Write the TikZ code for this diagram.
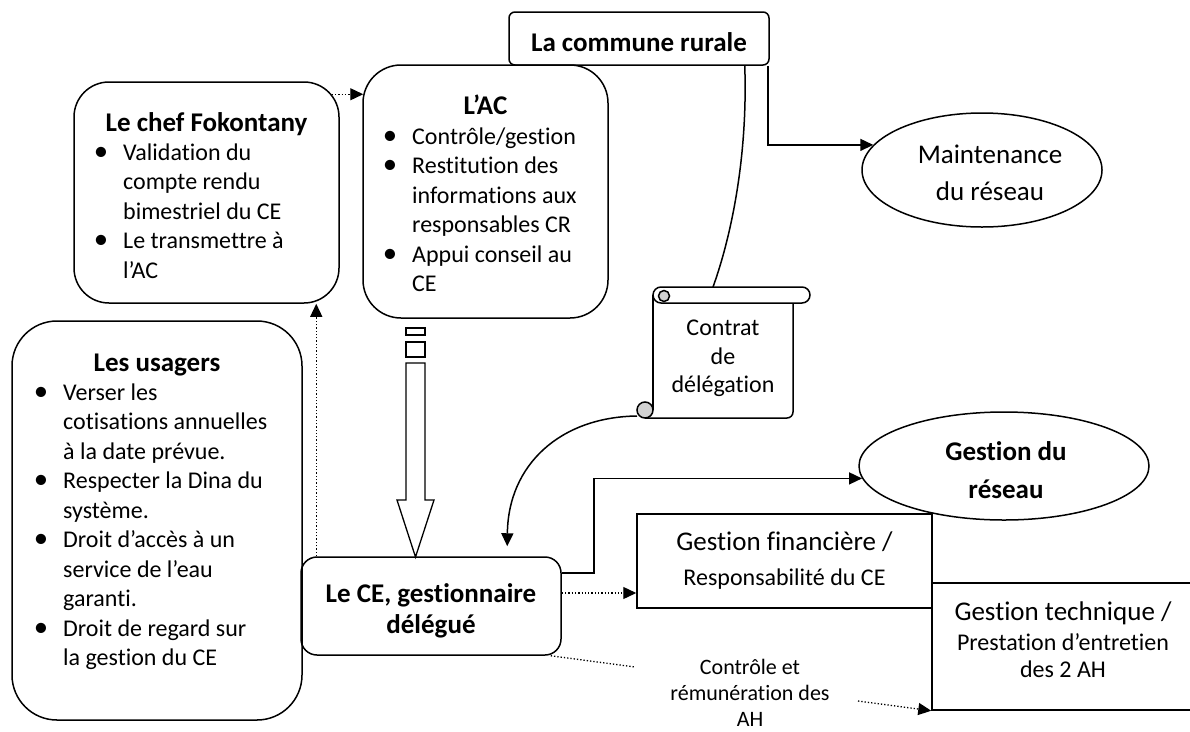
\documentclass[tikz,border=0pt]{standalone}
\usepackage{fontspec}
\setmainfont{Carlito}[Ligatures={NoCommon}]
\usetikzlibrary{arrows.meta,shapes.geometric}
\newcommand{\bodyf}{\fontsize{24pt}{29.5pt}\selectfont}
\newcommand{\headf}{\fontsize{27pt}{31pt}\selectfont}
\newcommand{\labf}{\fontsize{22pt}{26.5pt}\selectfont}
\newcommand{\bl}{\leavevmode\llap{\scalebox{1.2}{\textbullet}\hspace{15pt}}}
\tikzset{
  rbox/.style={draw, line width=1.5pt, inner sep=0pt},
  ell/.style={draw, ellipse, line width=1.5pt, inner sep=0pt},
  txt/.style={inner sep=0pt, align=center},
  bt/.style={inner sep=0pt, anchor=base},
  lst/.style={inner sep=0pt, anchor=base west},
  conn/.style={line width=1.5pt},
  arr/.style={line width=1.5pt, -{Triangle[length=13pt,width=12pt]}},
  dotl/.style={line width=1.3pt, dotted},
  darr/.style={line width=1.3pt, dotted, -{Triangle[length=13pt,width=12pt]}},
}
\begin{document}
\begin{tikzpicture}[x=1pt,y=-1pt]
\useasboundingbox (0,0) rectangle (1190,731);

% --- boxes ---
\node[rbox, rounded corners=6pt, minimum width=260pt, minimum height=53pt] (cr) at (639,38.5) {};
\node[txt, font=\headf\bfseries] (crt) at (639,42) {La commune rurale};

\node[rbox, rounded corners=38pt, minimum width=245pt, minimum height=253pt] (ac) at (485.5,191.5) {};
\node[bt, font=\headf\bfseries] (act) at (485.5,114) {L’AC};
\node[lst] (acl) at (412,144) {\parbox[t]{200pt}{\bodyf
 \bl Contrôle/gestion\\
 \bl Restitution des\\ informations aux\\ responsables CR\\
 \bl Appui conseil au\\ CE}};

\node[rbox, rounded corners=35pt, minimum width=265pt, minimum height=221pt] (chef) at (206.5,192.5) {};
\node[bt, font=\headf\bfseries] (cheft) at (206.5,131) {Le chef Fokontany};
\node[lst] (chefl) at (123,160) {\parbox[t]{210pt}{\bodyf
 \bl Validation du\\ compte rendu\\ bimestriel du CE\\
 \bl Le transmettre à\\ l’AC}};

\node[rbox, rounded corners=45pt, minimum width=290pt, minimum height=399pt] (us) at (157,520.5) {};
\node[bt, font=\headf\bfseries] (ust) at (157,371) {Les usagers};
\node[lst] (usl) at (63,400) {\parbox[t]{230pt}{\bodyf
 \bl Verser les\\ cotisations annuelles\\ à la date prévue.\\
 \bl Respecter la Dina du\\ système.\\
 \bl Droit d’accès à un\\ service de l’eau\\ garanti.\\
 \bl Droit de regard sur\\ la gestion du CE}};

\node[rbox, rounded corners=16pt, minimum width=260pt, minimum height=98pt] (ce) at (431,606) {};
\node[txt, font=\headf\bfseries] (cet) at (431,611) {Le CE, gestionnaire\\ délégué};

\node[rbox, minimum width=295pt, minimum height=94pt] (gf) at (784.5,561) {};
\node[bt, font=\headf] (gft1) at (784.5,550) {Gestion financière /};
\node[bt, font=\bodyf] (gft2) at (784.5,585) {Responsabilité du CE};

\node[rbox, minimum width=268pt, minimum height=127pt] (gt) at (1066,646.5) {};
\node[bt, font=\headf] (gtt1) at (1063,620) {Gestion technique /};
\node[bt, font=\bodyf] (gtt2) at (1063,650) {Prestation d’entretien};
\node[bt, font=\bodyf] (gtt3) at (1063,677) {des 2 AH};

\node[ell, minimum width=240pt, minimum height=114pt] (mr) at (982,170) {};
\node[bt, font=\headf] (mrt1) at (990,163) {Maintenance};
\node[bt, font=\headf] (mrt2) at (990,200) {du réseau};

\node[ell, minimum width=290pt, minimum height=108pt] (gr) at (1004,466) {};
\node[bt, font=\headf\bfseries] (grt1) at (1006,460) {Gestion du};
\node[bt, font=\headf\bfseries] (grt2) at (1006,498) {réseau};

% --- scroll ---
\draw[line width=1.5pt, fill=white] (661,287) -- (802,287) arc (-90:90:8) -- (661,303) arc (90:270:8) -- cycle;
\draw[line width=1.5pt, fill=gray!35] (664,296) circle (5.5);
\draw[line width=1.5pt] (653,295) -- (653,410);
\draw[line width=1.5pt, rounded corners=6pt] (645,418) -- (793,418) -- (793,303);
\draw[line width=1.5pt, fill=gray!35] (645,410) circle (8);
\node[bt, font=\bodyf] (sc1) at (723,335) {Contrat};
\node[bt, font=\bodyf] (sc2) at (723,364) {de};
\node[bt, font=\bodyf] (sc3) at (723,392) {délégation};
\coordinate (sctop) at (713,287);
\coordinate (scleft) at (637,416);

% --- big hollow arrow AC -> CE ---
\draw[line width=1.3pt] (406,328) rectangle (425,335);
\draw[line width=1.3pt] (406,342) rectangle (425,357);
\draw[line width=1.3pt] (406,363) -- (425,363) -- (425,500) -- (434,500) -- (415.5,557) -- (397,500) -- (406,500) -- cycle;

% --- connectors ---
\draw[arr] ([xshift=-2pt]cr.south east) |- (mr.167);
\draw[conn] ([xshift=-25pt]cr.south east) .. controls (748,160) and (730,240) .. (sctop);
\draw[arr] (scleft) .. controls (560,417) and (508,465) .. ([xshift=207pt,yshift=10pt]ce.north west);
\draw[arr] ([yshift=33pt]ce.east) -- ++(32,0) |- (gr.185);
\draw[darr] ([yshift=13pt]ce.east) -- ([yshift=13pt]ce.east -| gf.west);
\draw[darr] ([xshift=-8pt,yshift=-13pt]chef.north east) -- ([xshift=1pt,yshift=-30pt]ac.north west);
\coordinate (ceup) at ([xshift=16pt]ce.north west);
\draw[darr] (ceup) -- (ceup |- chef.south);

\node[bt, font=\labf] (lab1) at (750,674) {Contrôle et};
\node[bt, font=\labf] (lab2) at (750,700) {rémunération des};
\node[bt, font=\labf] (lab3) at (750,726) {AH};
\coordinate (labl) at (635,667);
\coordinate (labr) at (858,701);
\draw[dotl] ([xshift=-11pt]ce.south east) -- (labl);
\draw[darr] (labr) -- (gt.south west);
\end{tikzpicture}
\end{document}
